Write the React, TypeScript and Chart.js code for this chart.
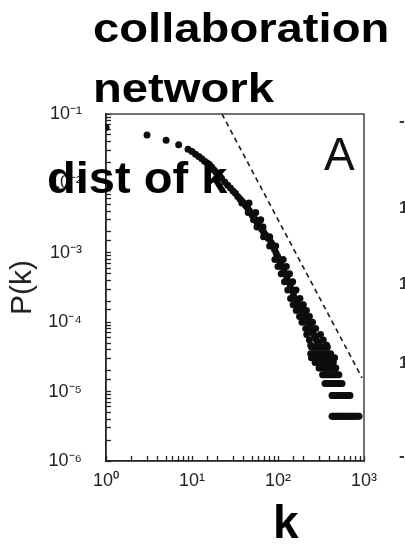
import React, { useEffect, useRef } from 'react';
import { Chart, registerables } from 'chart.js';

Chart.register(...registerables);

// ---- data ----
// main band of the degree distribution (k, P(k))
const curveK = [1, 3, 5, 7, 9, 10, 11, 12, 13, 14, 15, 16, 17, 18, 19, 20, 21, 22, 24, 26, 28, 30, 32, 34, 36, 38, 40, 42, 44, 46, 48, 50, 52, 55, 57, 60, 62, 65, 68, 71, 74, 77, 80, 84, 87, 91, 95, 99, 103, 107, 112, 117, 122, 127, 133, 139, 145, 151, 158, 165, 172, 180, 187, 195, 203, 211, 220, 230, 240, 250, 260, 270, 280, 290, 300];
const curveP = [0.064, 0.050, 0.042, 0.036, 0.031, 0.0288, 0.0263, 0.0245, 0.0226, 0.0209, 0.0197, 0.0186, 0.0171, 0.0156, 0.0145, 0.0135, 0.0127, 0.0119, 0.0105, 0.0094, 0.0086, 0.0078, 0.0072, 0.0065, 0.0060, 0.0056, 0.0052, 0.0048, 0.0045, 0.0041, 0.0038, 0.0035, 0.0033, 0.0030, 0.00275, 0.00255, 0.00236, 0.00216, 0.0020, 0.00184, 0.00171, 0.00162, 0.00155, 0.00138, 0.00125, 0.00112, 0.00099, 0.00089, 0.00080, 0.00071, 0.000635, 0.00056, 0.00050, 0.00044, 0.000383, 0.000335, 0.000292, 0.000255, 0.00022, 0.000198, 0.000179, 0.000162, 0.000147, 0.000134, 0.000121, 0.00011, 0.0001, 0.00009, 0.000081, 0.000073, 0.0000664, 0.000061, 0.0000552, 0.000051, 0.0000465];

// edges of the band (scatter around the main curve)
const spreadK = [38, 46, 45, 55, 52, 63, 57, 67, 68, 80, 80, 94, 92, 115, 100, 125, 109, 136, 119, 148, 130, 162, 140, 180, 150, 197, 163, 214, 178, 232, 190, 252, 210, 274, 216, 312, 232, 336, 240, 368];
const spreadP = [0.0052, 0.0052, 0.0038, 0.0038, 0.0030, 0.0030, 0.00236, 0.00236, 0.00171, 0.00171, 0.00125, 0.00125, 0.00080, 0.00080, 0.000635, 0.000635, 0.00050, 0.00050, 0.000383, 0.000383, 0.000292, 0.000292, 0.00022, 0.00022, 0.000179, 0.000179, 0.000147, 0.000147, 0.000121, 0.000121, 0.0001, 0.0001, 0.000081, 0.000081, 0.0000664, 0.0000664, 0.0000552, 0.0000552, 0.0000465, 0.0000465];

// low-count rows at the tail (constant P, many k)
const rowP = [4.38e-5, 3.5e-5, 3.07e-5, 2.63e-5, 2.19e-5, 1.75e-5, 1.31e-5, 8.8e-6, 4.4e-6];
const rowK = [
  [245, 260, 275, 290, 305, 320, 340, 355, 375],
  [240, 255, 270, 285, 300, 318, 335, 352, 370, 390, 410],
  [245, 260, 275, 290, 305, 322, 340, 360, 380, 400, 420, 437, 455],
  [270, 285, 300, 315, 330, 347, 365, 382, 400, 420, 440],
  [300, 315, 330, 345, 360, 377, 395, 412, 430, 450, 470],
  [330, 345, 360, 377, 395, 412, 430, 450, 470, 490, 510],
  [352, 366, 380, 395, 410, 425, 440, 457, 475, 492, 510, 532, 555],
  [425, 440, 455, 472, 490, 507, 525, 542, 560, 580, 600, 622, 645, 665, 687],
  [425, 440, 455, 472, 490, 507, 525, 542, 560, 580, 600, 622, 645, 667, 690, 715, 740, 770, 800, 837, 875],
];

// dashed reference power law
const dashK = [22.3, 948];
const dashP = [0.1, 1.58e-5];

// axis ranges / tick labels
const xMin = 1;
const xMax = 1000;
const yMin = 1e-6;
const yMax = 0.1;
const xTickLabels: Record<number, string> = { 0: '10⁰', 1: '10¹', 2: '10²', 3: '10³' };
const yTickLabels: Record<number, string> = { [-1]: '10⁻¹', [-2]: '10⁻²', [-3]: '10⁻³', [-4]: '10⁻⁴', [-5]: '10⁻⁵', [-6]: '10⁻⁶' };

const titleLines = ['collaboration', 'network'];
const subTitle = 'dist of k';
const panelLetter = 'A';
const xTitle = 'k';
const yTitle = 'P(k)';
const edgeFragments = ['-', '1', '1', '1', '-'];

const FONT = "'Liberation Sans', Arial, Helvetica, sans-serif";

function decadeLabel(v: number, map: Record<number, string>) {
  const e = Math.log10(v);
  const r = Math.round(e);
  if (Math.abs(e - r) < 1e-6 && map[r] !== undefined) return map[r];
  return '';
}

const overlayPlugin = {
  id: 'overlayText',
  afterDraw(chart: any) {
    const { ctx, chartArea: a } = chart;
    ctx.save();
    // frame (top and right sides)
    ctx.strokeStyle = '#444';
    ctx.lineWidth = 1.5;
    ctx.beginPath();
    ctx.moveTo(a.left, a.top);
    ctx.lineTo(a.right, a.top);
    ctx.lineTo(a.right, a.bottom);
    ctx.stroke();

    const draw = (t: string, x: number, y: number, font: string, sx = 1, color = '#000') => {
      ctx.save();
      ctx.translate(x, y);
      ctx.scale(sx, 1);
      ctx.font = font;
      ctx.fillStyle = color;
      ctx.textAlign = 'left';
      ctx.textBaseline = 'alphabetic';
      ctx.fillText(t, 0, 0);
      ctx.restore();
    };
    draw(titleLines[0], 93, 42, `bold 40px ${FONT}`, 1.18);
    draw(titleLines[1], 93, 102, `bold 40px ${FONT}`, 1.18);
    draw(subTitle, 47, 193, `bold 44px ${FONT}`, 1.07);
    draw(panelLetter, 324, 170, `46px ${FONT}`, 1, '#111');
    draw(xTitle, 273, 538, `bold 46px ${FONT}`);
    const fy = [126, 213, 289, 368, 461];
    edgeFragments.forEach((t, i) => draw(t, 399, fy[i], `bold 17px ${FONT}`, 1, '#333'));
    ctx.restore();
  },
};

export default function App() {
  const ref = useRef<HTMLCanvasElement | null>(null);

  useEffect(() => {
    if (!ref.current) return;
    const pts = (ks: number[], ps: number[]) => ks.map((k, i) => ({ x: k, y: ps[i] }));
    const rowPts: { x: number; y: number }[] = [];
    rowK.forEach((ks, r) => ks.forEach((k) => rowPts.push({ x: k, y: rowP[r] })));

    const pointStyle = {
      backgroundColor: '#0d0d0d',
      borderWidth: 0,
      pointRadius: 3.5,
      pointHoverRadius: 3.5,
    };

    const chart = new Chart(ref.current, {
      type: 'scatter',
      data: {
        datasets: [
          { label: 'P(k)', data: pts(curveK, curveP), ...pointStyle },
          { label: 'spread', data: pts(spreadK, spreadP), ...pointStyle },
          { label: 'tail', data: rowPts, ...pointStyle },
          {
            label: 'power law',
            data: pts(dashK, dashP),
            showLine: true,
            pointRadius: 0,
            borderColor: '#1a1a1a',
            borderWidth: 1.6,
            borderDash: [5, 4],
            backgroundColor: '#1a1a1a',
          },
        ],
      },
      plugins: [overlayPlugin],
      options: {
        animation: false,
        responsive: false,
        devicePixelRatio: 1,
        layout: { padding: { top: 114, right: 41, left: 0, bottom: 0 } },
        plugins: { legend: { display: false }, tooltip: { enabled: false }, title: { display: false } },
        scales: {
          x: {
            type: 'logarithmic',
            position: 'bottom',
            min: xMin,
            max: xMax,
            afterFit: (s: any) => { s.height = 94; },
            border: { display: true, color: '#222', width: 1.8 },
            grid: { drawOnChartArea: false, drawTicks: true, tickLength: -5, tickColor: '#222', tickWidth: 1.3 },
            ticks: {
              autoSkip: false,
              maxRotation: 0,
              padding: 14,
              color: '#222',
              font: { family: FONT, size: 18 },
              callback: (v: any) => decadeLabel(Number(v), xTickLabels),
            },
          },
          y: {
            type: 'logarithmic',
            position: 'left',
            min: yMin,
            max: yMax,
            afterFit: (s: any) => { s.width = 106; },
            border: { display: true, color: '#222', width: 1.8 },
            grid: { drawOnChartArea: false, drawTicks: true, tickLength: -5, tickColor: '#222', tickWidth: 1.3 },
            title: { display: true, text: yTitle, color: '#222', font: { family: FONT, size: 30 }, padding: { top: 5, bottom: 0 } },
            ticks: {
              autoSkip: false,
              padding: 29,
              color: '#222',
              font: { family: FONT, size: 18 },
              callback: (v: any) => decadeLabel(Number(v), yTickLabels),
            },
          },
        },
      },
    } as any);
    return () => chart.destroy();
  }, []);

  return (
    <div style={{ position: 'absolute', left: 0, top: 0, width: 405, height: 555, background: '#fff' }}>
      <canvas ref={ref} width={405} height={555} style={{ display: 'block' }} />
    </div>
  );
}
